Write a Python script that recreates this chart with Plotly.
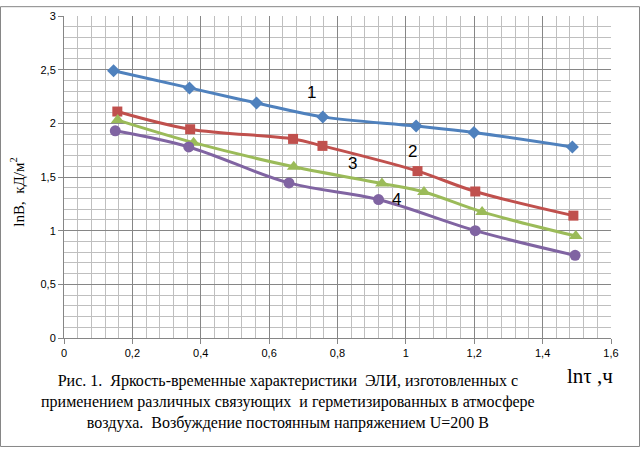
import plotly.graph_objects as go

# data
x1 = [0.145, 0.367, 0.563, 0.757, 1.030, 1.199, 1.487]
y1 = [2.49, 2.33, 2.19, 2.06, 1.975, 1.915, 1.78]

x2 = [0.156, 0.369, 0.670, 0.756, 1.034, 1.203, 1.490]
y2 = [2.11, 1.945, 1.855, 1.79, 1.555, 1.365, 1.14]

x3 = [0.157, 0.379, 0.672, 0.930, 1.053, 1.223, 1.497]
y3 = [2.03, 1.82, 1.595, 1.44, 1.36, 1.175, 0.95]

x4 = [0.150, 0.365, 0.658, 0.920, 1.203, 1.495]
y4 = [1.93, 1.78, 1.445, 1.29, 1.0, 0.77]

curve_labels = ["1", "2", "3", "4"]
label_x = [0.723, 1.02, 0.843, 0.973]
label_y = [2.29, 1.74, 1.63, 1.295]

caption = ("Рис. 1.  Яркость-временные характеристики  ЭЛИ, изготовленных с<br>"
           "применением различных связующих  и герметизированных в атмосфере<br>"
           "воздуха.  Возбуждение постоянным напряжением U=200 В")

series = [
    (x1, y1, "#4F81BD", "diamond", 10),
    (x2, y2, "#C0504D", "square", 10),
    (x3, y3, "#9BBB59", "triangle-up", 12),
    (x4, y4, "#8064A2", "circle", 11),
]

fig = go.Figure()
for xs, ys, col, sym, sz in series:
    fig.add_trace(go.Scatter(
        x=xs, y=ys, mode="lines+markers",
        line=dict(color=col, width=3, shape="spline", smoothing=1.0),
        marker=dict(symbol=sym, size=sz, color=col),
        showlegend=False,
    ))

for t, lx, ly in zip(curve_labels, label_x, label_y):
    fig.add_annotation(x=lx, y=ly, text=t, showarrow=False,
                       font=dict(family="Liberation Sans", size=17, color="black"))

L, R, T, B = 64, 30, 10, 112
W, H = 641, 450
pw, ph = W - L - R, H - T - B


def px(X):
    return (X - L) / pw


def py(Y):
    return (H - B - Y) / ph


# caption and axis titles placed in paper coordinates
fig.add_annotation(xref="paper", yref="paper", x=px(288), y=py(403),
                   xanchor="center", yanchor="middle",
                   text=caption, showarrow=False, align="center",
                   font=dict(family="Liberation Serif", size=16, color="black"))
fig.add_annotation(xref="paper", yref="paper", x=px(590), y=py(377),
                   xanchor="center", yanchor="middle",
                   text="lnτ ,ч", showarrow=False,
                   font=dict(family="Liberation Serif", size=21, color="black"))
fig.add_annotation(xref="paper", yref="paper", x=px(17), y=py(190),
                   xanchor="center", yanchor="middle",
                   text="lnB,  кД/м<sup>2</sup>", showarrow=False, textangle=-90,
                   font=dict(family="Liberation Serif", size=15, color="black"))

# outer chart border
fig.add_shape(type="rect", xref="paper", yref="paper",
              x0=px(0.5), x1=px(W - 1.5), y0=py(H - 1.5), y1=py(0.5),
              line=dict(color="#868686", width=1))

fig.update_layout(
    width=W, height=H,
    margin=dict(l=L, r=R, t=T, b=B),
    paper_bgcolor="white", plot_bgcolor="white",
    separators=", ",
    font=dict(family="Liberation Sans", size=11, color="black"),
    xaxis=dict(range=[0, 1.6], dtick=0.2,
               showgrid=True, gridcolor="#868686", gridwidth=1,
               minor=dict(dtick=0.04, showgrid=True, gridcolor="#BFBFBF", gridwidth=1),
               showline=True, linecolor="#868686",
               ticks="outside", ticklen=5, tickcolor="#868686", zeroline=False),
    yaxis=dict(range=[0, 3], dtick=0.5,
               showgrid=True, gridcolor="#868686", gridwidth=1,
               minor=dict(dtick=0.1, showgrid=True, gridcolor="#BFBFBF", gridwidth=1),
               showline=True, linecolor="#868686",
               ticks="outside", ticklen=5, tickcolor="#868686", zeroline=False),
)

fig.write_html("out.html", config={"displayModeBar": False},
               post_script="document.body.style.margin='0';")
